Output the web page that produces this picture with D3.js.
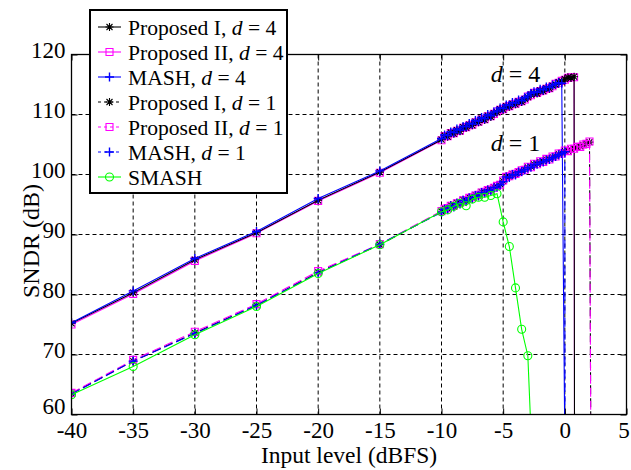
<!DOCTYPE html>
<html>

<head>
    <meta charset="utf-8">
    <script src="https://d3js.org/d3.v7.min.js"></script>

    <style>
        body {
            margin: 0;
            background: white;
        }

        svg {
            display: block;
        }

        text {
            font-family: "Liberation Serif", "Times New Roman", serif;
            fill: black;
        }
    </style>

    <script type="text/javascript">
        // input levels (dBFS) for each group of curves
        var levelsD4 = [-40, -35, -30, -25, -20, -15,
            -10, -9.75, -9.5, -9.25, -9, -8.75, -8.5, -8.25, -8, -7.75, -7.5, -7.25, -7, -6.75, -6.5, -6.25,
            -6, -5.75, -5.5, -5.25, -5, -4.75, -4.5, -4.25, -4, -3.75, -3.5, -3.25, -3, -2.75, -2.5, -2.25,
            -2, -1.75, -1.5, -1.25, -1, -0.75, -0.5, -0.25, 0, 0.25, 0.5, 0.75, 1];

        var levelsD1 = [-40, -35, -30, -25, -20, -15,
            -10, -9.75, -9.5, -9.25, -9, -8.75, -8.5, -8.25, -8, -7.75, -7.5, -7.25, -7, -6.75, -6.5, -6.25,
            -6, -5.75, -5.5, -5.25, -5, -4.75, -4.5, -4.25, -4, -3.75, -3.5, -3.25, -3, -2.75, -2.5, -2.25,
            -2, -1.75, -1.5, -1.25, -1, -0.75, -0.5, -0.25, 0, 0.25, 0.5, 0.75, 1, 1.25, 1.5, 1.75, 2, 2.25];

        var levelsSmash = [-40, -35, -30, -25, -20, -15,
            -10, -9.5, -9, -8.5, -8, -7.5, -7, -6.5, -6, -5.5, -5, -4.5, -4, -3.5, -3, -2.5];

        // SNDR (dB)
        var sndrPropI_d4 = [75.2, 80.3, 85.8, 90.3, 95.7, 100.4,
            105.8, 106.5, 106.3, 107.0, 106.8, 107.4, 107.2, 107.9, 107.8, 108.3, 108.2, 108.8, 108.7, 109.3, 109.1, 109.8,
            109.6, 110.2, 110.4, 110.9, 110.8, 111.4, 111.3, 111.8, 111.7, 112.2, 112.1, 112.6, 112.9, 113.3, 113.6, 113.5,
            114.0, 113.9, 114.4, 114.3, 114.8, 115.0, 115.4, 115.5, 115.9, 116.2, 116.1, 116.3, -300];

        var sndrPropII_d4 = [75.0, 80.1, 85.6, 90.2, 95.6, 100.3,
            105.7, 106.4, 106.4, 106.9, 106.9, 107.3, 107.3, 107.8, 107.9, 108.2, 108.3, 108.7, 108.8, 109.2, 109.2, 109.7,
            109.7, 110.1, 110.5, 110.8, 110.9, 111.3, 111.4, 111.7, 111.8, 112.1, 112.2, 112.5, 113.0, 113.2, 113.6, 113.6,
            113.9, 114.0, 114.3, 114.4, 114.7, 115.1, 115.3, 115.6, 115.8, 116.1, 116.2, 116.2, -300];

        var sndrMash_d4 = [75.3, 80.6, 86.0, 90.5, 96.0, 100.6,
            106.0, 106.6, 106.5, 107.1, 107.0, 107.6, 107.4, 108.0, 108.0, 108.5, 108.4, 109.0, 108.9, 109.5, 109.3, 110.0,
            109.8, 110.4, 110.6, 111.1, 111.0, 111.6, 111.5, 112.0, 111.9, 112.4, 112.3, 112.8, 113.1, 113.5, 113.8, 113.7,
            114.2, 114.1, 114.6, 114.5, 114.9, 115.1, 115.3, 115.2, 55];

        var sndrPropI_d1 = [63.5, 68.9, 73.6, 78.2, 83.7, 88.3,
            93.8, 94.4, 94.3, 94.9, 94.7, 95.3, 95.2, 95.8, 95.6, 96.2, 96.1, 96.6, 96.5, 97.1, 97.0, 97.5,
            97.4, 97.9, 98.0, 98.4, 98.9, 99.7, 99.6, 100.1, 100.0, 100.5, 100.6, 100.9, 101.2, 101.3, 101.7, 101.8,
            102.1, 102.2, 102.5, 102.6, 102.9, 103.1, 103.4, 103.6, 103.9, 104.0, 104.2, 104.4, 104.5, 104.7, 104.9, 105.2, 105.4, -10];

        var sndrPropII_d1 = [63.6, 69.1, 73.8, 78.4, 83.9, 88.4,
            93.9, 94.3, 94.4, 94.8, 94.8, 95.2, 95.3, 95.7, 95.7, 96.1, 96.2, 96.5, 96.6, 97.0, 97.1, 97.4,
            97.5, 97.8, 98.1, 98.3, 99.0, 99.6, 99.7, 100.0, 100.1, 100.4, 100.7, 100.8, 101.3, 101.2, 101.8, 101.7,
            102.2, 102.1, 102.6, 102.5, 103.0, 103.0, 103.5, 103.5, 104.0, 103.9, 104.3, 104.3, 104.6, 104.6, 105.0, 105.1, 105.5, -10];

        var sndrMash_d1 = [63.4, 68.9, 73.5, 78.2, 83.6, 88.4,
            93.7, 94.2, 94.2, 94.8, 94.6, 95.2, 95.1, 95.7, 95.5, 96.1, 96.0, 96.5, 96.4, 97.0, 96.9, 97.4,
            97.3, 97.8, 97.9, 98.3, 98.8, 99.6, 99.5, 100.0, 99.9, 100.4, 100.5, 100.8, 101.1, 101.2, 101.6, 101.7,
            102.0, 102.1, 102.4, 102.5, 102.8, 103.0, 103.3, 103.5, 103.8, -1000];

        var sndrSmash = [63.3, 68.0, 73.3, 78.0, 83.5, 88.3,
            93.8, 94.1, 94.7, 95.2, 94.8, 95.9, 96.2, 96.2, 96.5, 96.8, 92.1, 88.0, 81.1, 74.2, 69.8, 45];

        var xTicks = [-40, -35, -30, -25, -20, -15, -10, -5, 0, 5];
        var yTicks = [60, 70, 80, 90, 100, 110, 120];

        function draw() {
            "use strict";
            var width = 631,
                height = 470;
            var plot = { left: 71.5, right: 626.5, top: 54.5, bottom: 414.5 };

            var x = d3.scaleLinear().domain([-40, 5]).range([plot.left, plot.right]);
            var y = d3.scaleLinear().domain([60, 120]).range([plot.bottom, plot.top]);

            var svg = d3.select("body")
                .append("svg")
                .attr("width", width)
                .attr("height", height);

            svg.append("rect")
                .attr("width", width)
                .attr("height", height)
                .attr("fill", "white");

            svg.append("clipPath")
                .attr("id", "plot-clip")
                .append("rect")
                .attr("x", plot.left)
                .attr("y", plot.top)
                .attr("width", plot.right - plot.left)
                .attr("height", plot.bottom - plot.top);

            // dashed grid
            var grid = svg.append("g")
                .attr("stroke", "black")
                .attr("stroke-width", 1)
                .attr("stroke-dasharray", "4,3");
            grid.selectAll(".vgrid")
                .data(xTicks.slice(1, -1))
                .enter()
                .append("line")
                .attr("x1", function(d) { return x(d); })
                .attr("x2", function(d) { return x(d); })
                .attr("y1", plot.top)
                .attr("y2", plot.bottom);
            grid.selectAll(".hgrid")
                .data(yTicks.slice(1, -1))
                .enter()
                .append("line")
                .attr("x1", plot.left)
                .attr("x2", plot.right)
                .attr("y1", function(d) { return y(d); })
                .attr("y2", function(d) { return y(d); });

            // series (legend order); z gives the drawing order
            var series = [
                { name: "Proposed I, ", d: "4", levels: levelsD4, values: sndrPropI_d4, color: "#000000", dash: null, marker: "star", z: 1 },
                { name: "Proposed II, ", d: "4", levels: levelsD4, values: sndrPropII_d4, color: "#ff00ff", dash: null, marker: "square", z: 0 },
                { name: "MASH, ", d: "4", levels: levelsD4, values: sndrMash_d4, color: "#0000ff", dash: null, marker: "plus", z: 2 },
                { name: "Proposed I, ", d: "1", levels: levelsD1, values: sndrPropI_d1, color: "#000000", dash: "9,4", marker: "star", z: 3 },
                { name: "Proposed II, ", d: "1", levels: levelsD1, values: sndrPropII_d1, color: "#ff00ff", dash: "9,4", marker: "square", z: 4 },
                { name: "MASH, ", d: "1", levels: levelsD1, values: sndrMash_d1, color: "#0000ff", dash: "9,4", marker: "plus", z: 5 },
                { name: "SMASH", d: null, levels: levelsSmash, values: sndrSmash, color: "#00ff00", dash: null, marker: "circle", z: 6 }
            ];

            var markerPaths = {
                star: "M-4,0H4M0,-4V4M-3,-3L3,3M-3,3L3,-3",
                plus: "M-4.5,0H4.5M0,-4.5V4.5",
                square: "M-3.5,-3.5H3.5V3.5H-3.5Z",
                circle: "M4,0A4,4 0 1,1 -4,0A4,4 0 1,1 4,0Z"
            };

            var line = d3.line()
                .x(function(p) { return x(p[0]); })
                .y(function(p) { return y(p[1]); });

            var plotArea = svg.append("g").attr("clip-path", "url(#plot-clip)");

            series.slice().sort(function(a, b) { return a.z - b.z; }).forEach(function(s) {
                var pts = s.values.map(function(v, i) { return [s.levels[i], v]; });
                var g = plotArea.append("g");
                g.append("path")
                    .datum(pts)
                    .attr("d", line)
                    .attr("fill", "none")
                    .attr("stroke", s.color)
                    .attr("stroke-width", 1.1)
                    .attr("stroke-dasharray", s.dash);
                g.selectAll(".mk")
                    .data(pts.filter(function(p) { return p[1] >= 58; }))
                    .enter()
                    .append("path")
                    .attr("transform", function(p) { return "translate(" + x(p[0]) + "," + y(p[1]) + ")"; })
                    .attr("d", markerPaths[s.marker])
                    .attr("fill", "none")
                    .attr("stroke", s.color)
                    .attr("stroke-width", s.marker === "plus" ? 1.4 : 1.1);
            });

            // axes box and inward ticks
            var fmt = function(d) { return String(d); };
            var axisFont = 23;

            var xAxis = svg.append("g")
                .attr("transform", "translate(0," + plot.bottom + ")")
                .call(d3.axisBottom(x).tickValues(xTicks).tickFormat(fmt).tickSizeInner(-6).tickSizeOuter(0).tickPadding(7));
            var yAxis = svg.append("g")
                .attr("transform", "translate(" + plot.left + ",0)")
                .call(d3.axisLeft(y).tickValues(yTicks).tickFormat(fmt).tickSizeInner(-6).tickSizeOuter(0).tickPadding(6));
            svg.append("g")
                .attr("transform", "translate(0," + plot.top + ")")
                .call(d3.axisTop(x).tickValues(xTicks).tickFormat("").tickSizeInner(-6).tickSizeOuter(0));
            svg.append("g")
                .attr("transform", "translate(" + plot.right + ",0)")
                .call(d3.axisRight(y).tickValues(yTicks).tickFormat("").tickSizeInner(-6).tickSizeOuter(0));

            svg.selectAll(".domain").remove();
            svg.selectAll(".tick line").attr("stroke", "black");
            [xAxis, yAxis].forEach(function(a) {
                a.selectAll("text")
                    .style("font-family", "'Liberation Serif', 'Times New Roman', serif")
                    .style("font-size", axisFont + "px")
                    .attr("fill", "black");
            });
            yAxis.selectAll("text").attr("dy", "0.15em");
            // the corner labels sit close together, as in the original
            yAxis.selectAll("text")
                .filter(function(d) { return d === 60; })
                .attr("dy", "-0.05em");
            // keep the last x label inside the picture
            xAxis.selectAll("text")
                .filter(function(d) { return d === 5; })
                .attr("dx", "-3");

            svg.append("rect")
                .attr("x", plot.left)
                .attr("y", plot.top)
                .attr("width", plot.right - plot.left)
                .attr("height", plot.bottom - plot.top)
                .attr("fill", "none")
                .attr("stroke", "black")
                .attr("stroke-width", 1.3);

            // axis titles
            svg.append("text")
                .attr("x", (plot.left + plot.right) / 2)
                .attr("y", 463)
                .attr("text-anchor", "middle")
                .style("font-size", "23.5px")
                .text("Input level (dBFS)");

            svg.append("text")
                .attr("transform", "translate(39,241) rotate(-90)")
                .attr("text-anchor", "middle")
                .style("font-size", "24px")
                .text("SNDR (dB)");

            // curve annotations
            [{ v: "4", at: 82 }, { v: "1", at: 151 }].forEach(function(a) {
                var t = svg.append("text")
                    .attr("x", x(-6))
                    .attr("y", a.at)
                    .style("font-size", "24px");
                t.append("tspan").style("font-style", "italic").text("d");
                t.append("tspan").text(" = " + a.v);
            });

            // legend
            var legend = svg.append("g");
            legend.append("rect")
                .attr("x", 90)
                .attr("y", 10)
                .attr("width", 197)
                .attr("height", 183)
                .attr("fill", "white")
                .attr("stroke", "black")
                .attr("stroke-width", 2);

            var rows = legend.selectAll(".row")
                .data(series)
                .enter()
                .append("g")
                .attr("transform", function(d, i) { return "translate(0," + (27 + i * 25) + ")"; });
            rows.append("line")
                .attr("x1", 98)
                .attr("x2", 121)
                .attr("stroke", function(d) { return d.color; })
                .attr("stroke-width", 1.1)
                .attr("stroke-dasharray", function(d) { return d.dash ? "3,3" : null; });
            rows.append("path")
                .attr("transform", "translate(109.5,0)")
                .attr("d", function(d) { return markerPaths[d.marker]; })
                .attr("fill", "none")
                .attr("stroke", function(d) { return d.color; })
                .attr("stroke-width", function(d) { return d.marker === "plus" ? 1.4 : 1.1; });
            var labels = rows.append("text")
                .attr("x", 128)
                .attr("dy", "0.35em")
                .style("font-size", "21.6px");
            labels.append("tspan").text(function(d) { return d.name; });
            labels.filter(function(d) { return d.d; })
                .append("tspan").style("font-style", "italic").text("d");
            labels.filter(function(d) { return d.d; })
                .append("tspan").text(function(d) { return " = " + d.d; });
        }
    </script>
</head>

<body>
    <script type="text/javascript">
        draw();
    </script>
</body>

</html>
